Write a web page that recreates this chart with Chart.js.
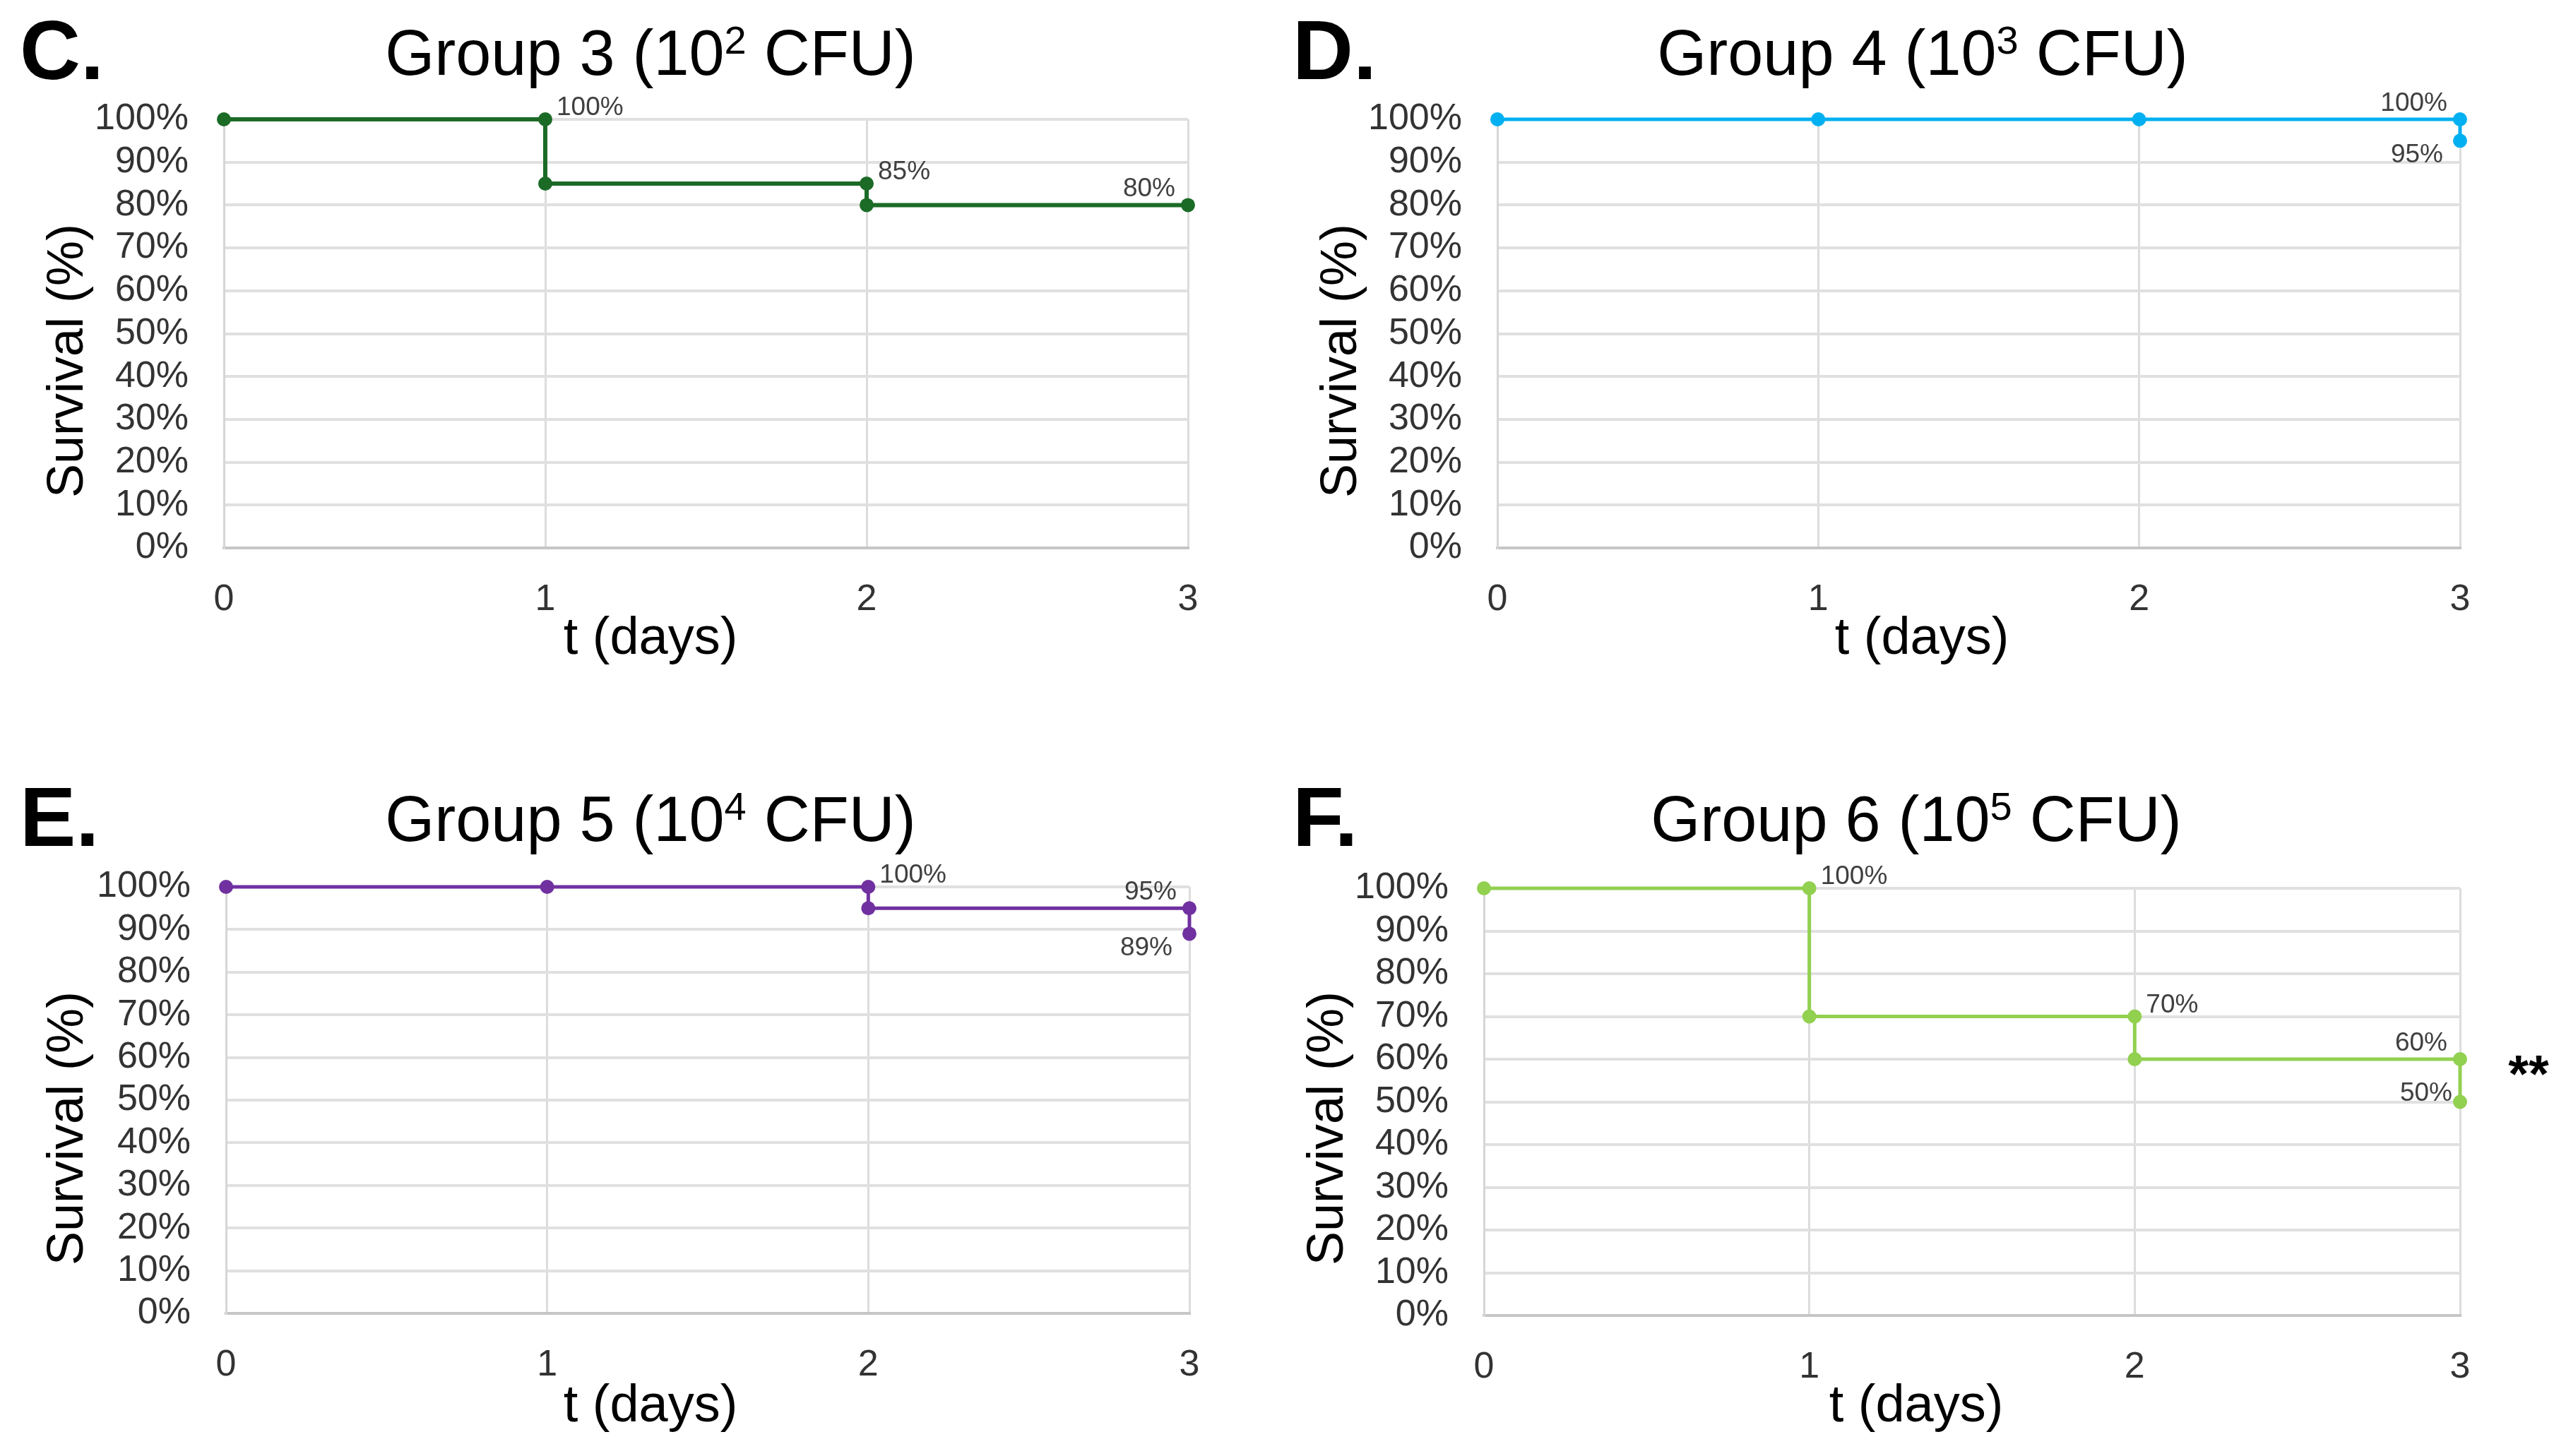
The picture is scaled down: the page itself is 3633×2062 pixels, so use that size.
<!DOCTYPE html>
<html>
<head>
<meta charset="utf-8">
<script src="https://cdn.jsdelivr.net/npm/chart.js@4.4.1/dist/chart.umd.min.js"></script>
<style>
  html, body { margin: 0; padding: 0; background: #fff; }
  body { position: relative; width: 3633px; height: 2062px; overflow: hidden; }
  canvas { position: absolute; }
</style>
</head>
<body>
<canvas id="chartC"></canvas>
<canvas id="chartD"></canvas>
<canvas id="chartE"></canvas>
<canvas id="chartF"></canvas>
<script>
// survival data (Kaplan-Meier steps)
const daysC = [0, 1, 1, 2, 2, 3];
const survivalC = [100, 100, 85, 85, 80, 80];

const daysD = [0, 1, 2, 3, 3];
const survivalD = [100, 100, 100, 100, 95];

const daysE = [0, 1, 2, 2, 3, 3];
const survivalE = [100, 100, 100, 95, 95, 89];

const daysF = [0, 1, 1, 2, 2, 3, 3];
const survivalF = [100, 100, 70, 70, 60, 60, 50];

const dayTicks = [0, 1, 2, 3];
const survivalTicks = [0, 10, 20, 30, 40, 50, 60, 70, 80, 90, 100];

const panelLetters = ["C.", "D.", "E.", "F."];
const groupNames = ["Group 3", "Group 4", "Group 5", "Group 6"];
const doseExponents = ["2", "3", "4", "5"];

const FONT = "'Liberation Sans', Arial, sans-serif";

// draws the panel letter, heading (with superscript), axis titles
const panelText = {
  id: "panelText",
  afterDraw(chart, args, o) {
    const ctx = chart.ctx;
    ctx.save();
    ctx.fillStyle = "#000";

    ctx.font = "bold 119px " + FONT;
    ctx.textAlign = "left";
    ctx.textBaseline = "alphabetic";
    ctx.fillText(o.letter, o.letterX, o.letterY);

    const main = o.title + " (10";
    const tail = " CFU)";
    ctx.font = "90px " + FONT;
    const w1 = ctx.measureText(main).width;
    const w3 = ctx.measureText(tail).width;
    ctx.font = "56px " + FONT;
    const w2 = ctx.measureText(o.sup).width;
    let x = o.titleX - (w1 + w2 + w3) / 2;
    ctx.font = "90px " + FONT;
    ctx.fillText(main, x, o.titleY);
    x += w1;
    ctx.font = "56px " + FONT;
    ctx.fillText(o.sup, x, o.titleY - 30);
    x += w2;
    ctx.font = "90px " + FONT;
    ctx.fillText(tail, x, o.titleY);

    ctx.font = "74px " + FONT;
    ctx.textAlign = "center";
    ctx.textBaseline = "middle";
    ctx.fillText("t (days)", o.xTitleX, o.xTitleY);

    ctx.translate(o.yTitleX, o.yTitleY);
    ctx.rotate(-Math.PI / 2);
    ctx.font = "72px " + FONT;
    ctx.fillText("Survival (%)", 0, 0);
    ctx.restore();

    if (o.mark) {
      const ys = chart.scales.y;
      ctx.save();
      ctx.font = "bold 74px " + FONT;
      ctx.textAlign = "center";
      ctx.textBaseline = "middle";
      ctx.fillStyle = "#000";
      ctx.fillText(o.mark, chart.chartArea.right + 97, ys.getPixelForValue(59) + 20);
      ctx.restore();
    }
  }
};

// value labels next to selected step points
const stepLabels = {
  id: "stepLabels",
  afterDatasetsDraw(chart, args, o) {
    const ctx = chart.ctx;
    const meta = chart.getDatasetMeta(0);
    const values = chart.data.datasets[0].data;
    ctx.save();
    ctx.font = "37px " + FONT;
    ctx.fillStyle = "#404040";
    ctx.textBaseline = "alphabetic";
    (o.items || []).forEach(it => {
      const pt = meta.data[it.i];
      const txt = values[it.i].y + "%";
      if (it.pos === "ne") { ctx.textAlign = "left"; ctx.fillText(txt, pt.x + 16, pt.y - 6); }
      if (it.pos === "nw") { ctx.textAlign = "right"; ctx.fillText(txt, pt.x - 18, pt.y - 12); }
      if (it.pos === "sw") { ctx.textAlign = "right"; ctx.fillText(txt, pt.x - 24, pt.y + 31); }
      if (it.pos === "w") { ctx.textAlign = "right"; ctx.fillText(txt, pt.x - 11, pt.y - 2); }
    });
    ctx.restore();
  }
};

function makeChart(id, days, survival, color, lw, box, text, labels) {
  const el = document.getElementById(id);
  el.width = box.w;
  el.height = box.h;
  el.style.left = box.left + "px";
  el.style.top = box.top + "px";
  el.style.width = box.w + "px";
  el.style.height = box.h + "px";

  const points = days.map((d, i) => ({ x: d, y: survival[i] }));

  return new Chart(el, {
    type: "scatter",
    data: {
      datasets: [{
        data: points,
        showLine: true,
        borderColor: color,
        backgroundColor: color,
        borderWidth: lw,
        pointRadius: 10,
        pointHoverRadius: 10,
        pointBorderWidth: 0,
        tension: 0,
        clip: false
      }]
    },
    options: {
      responsive: false,
      animation: false,
      devicePixelRatio: 1,
      layout: { padding: { top: box.areaTop, right: box.w - box.areaRight, bottom: 0, left: 0 } },
      plugins: {
        legend: { display: false },
        tooltip: { enabled: false },
        panelText: text,
        stepLabels: { items: labels }
      },
      scales: {
        x: {
          type: "linear",
          min: dayTicks[0],
          max: dayTicks[dayTicks.length - 1],
          afterBuildTicks: s => { s.ticks = dayTicks.map(v => ({ value: v })); },
          afterFit: s => { s.height = box.h - box.areaBottom; },
          grid: { color: "#dcdcdc", lineWidth: 3, drawTicks: false },
          border: { color: "#c6c6c6", width: 4 },
          ticks: {
            padding: 42,
            color: "#333",
            autoSkip: false,
            font: { family: FONT, size: 52 },
            maxRotation: 0
          }
        },
        y: {
          min: survivalTicks[0],
          max: survivalTicks[survivalTicks.length - 1],
          afterBuildTicks: s => { s.ticks = survivalTicks.map(v => ({ value: v })); },
          afterFit: s => { s.width = box.areaLeft; },
          grid: { color: "#e0e0e0", lineWidth: 4, drawTicks: false },
          border: { color: "#d6d6d6", width: 3 },
          ticks: {
            padding: 50,
            color: "#333",
            autoSkip: false,
            font: { family: FONT, size: 52 },
            callback: v => v + "%"
          }
        }
      }
    },
    plugins: [panelText, stepLabels]
  });
}

makeChart("chartC", daysC, survivalC, "#1b6b26", 6,
  { left: 0, top: 0, w: 1844, h: 1000, areaLeft: 317, areaRight: 1682, areaTop: 169, areaBottom: 776 },
  { letter: panelLetters[0], letterX: 28, letterY: 112, title: groupNames[0], sup: doseExponents[0],
    titleX: 921, titleY: 106, xTitleX: 921, xTitleY: 906, yTitleX: 97, yTitleY: 511 },
  [{ i: 1, pos: "ne" }, { i: 3, pos: "ne" }, { i: 5, pos: "nw" }]);

makeChart("chartD", daysD, survivalD, "#00b0f0", 5,
  { left: 1800, top: 0, w: 1833, h: 1000, areaLeft: 320, areaRight: 1683, areaTop: 169, areaBottom: 776 },
  { letter: panelLetters[1], letterX: 30, letterY: 112, title: groupNames[1], sup: doseExponents[1],
    titleX: 922, titleY: 106, xTitleX: 921, xTitleY: 906, yTitleX: 100, yTitleY: 511 },
  [{ i: 3, pos: "nw" }, { i: 4, pos: "sw" }]);

makeChart("chartE", daysE, survivalE, "#7030a0", 5,
  { left: 0, top: 1082, w: 1844, h: 980, areaLeft: 320, areaRight: 1684, areaTop: 174, areaBottom: 778 },
  { letter: panelLetters[2], letterX: 28, letterY: 116, title: groupNames[2], sup: doseExponents[2],
    titleX: 921, titleY: 109, xTitleX: 921, xTitleY: 911, yTitleX: 97, yTitleY: 516 },
  [{ i: 2, pos: "ne" }, { i: 4, pos: "nw" }, { i: 5, pos: "sw" }]);

makeChart("chartF", daysF, survivalF, "#92d050", 5,
  { left: 1800, top: 1082, w: 1833, h: 980, areaLeft: 301, areaRight: 1683, areaTop: 176, areaBottom: 781 },
  { letter: panelLetters[3], letterX: 30, letterY: 116, title: groupNames[3], sup: doseExponents[3],
    titleX: 913, titleY: 109, xTitleX: 913, xTitleY: 911, yTitleX: 81, yTitleY: 516, mark: "**" },
  [{ i: 1, pos: "ne" }, { i: 3, pos: "ne" }, { i: 5, pos: "nw" }, { i: 6, pos: "w" }]);
</script>
</body>
</html>
